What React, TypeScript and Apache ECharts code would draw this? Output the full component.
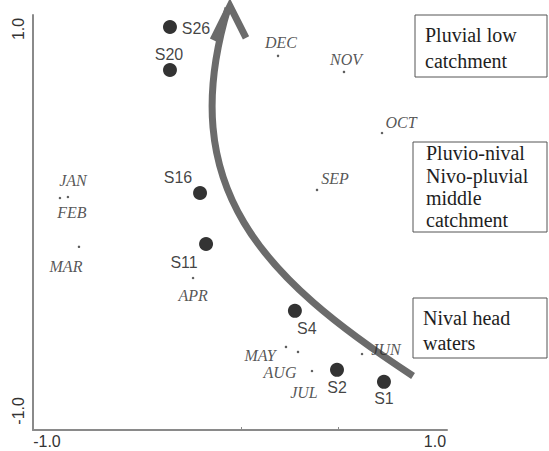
import React, { useEffect, useRef } from "react";
import * as echarts from "echarts";

// Ordination scores: sampling stations
const stationNames = ["S26", "S20", "S16", "S11", "S4", "S2", "S1"];
const stationX = [-0.366, -0.366, -0.211, -0.18, 0.278, 0.495, 0.737];
const stationY = [1.01, 0.785, 0.141, -0.126, -0.476, -0.785, -0.848];

// Ordination scores: months
const monthNames = ["JAN", "FEB", "MAR", "APR", "MAY", "JUN", "JUL", "AUG", "SEP", "OCT", "NOV", "DEC"];
const monthX = [-0.892, -0.933, -0.835, -0.247, 0.232, 0.624, 0.366, 0.294, 0.392, 0.727, 0.531, 0.191];
const monthY = [0.12, 0.115, -0.141, -0.304, -0.665, -0.702, -0.791, -0.691, 0.157, 0.455, 0.775, 0.859];

// Axis tick labels
const axisLabelValues = [-1, 1];
const xMinorTicks = [0, 0.5];

// Downstream gradient arrow: cubic Bezier (start, control 1, control 2, end) in score space
const trendX = [0.887, 0.113, -0.345, -0.067];
const trendY = [-0.817, -0.304, 0.168, 1.11];
const headX = [-0.144, -0.057, 0.026];
const headY = [0.942, 1.12, 0.953];

// Zone annotations
const zoneTexts = [
  ["Pluvial low", "catchment"],
  ["Pluvio-nival", "Nivo-pluvial", "middle", "catchment"],
  ["Nival head", "waters"],
];

// Label placement (pixel offsets from each point)
const stationLabelOffset: Record<string, number[]> = {
  S26: [26, 1], S20: [-1, -16], S16: [-22, -15], S11: [-22, 19], S4: [12, 18], S2: [0, 18], S1: [0, 17],
};
const monthLabelOffset: Record<string, number[]> = {
  JAN: [5, -17], FEB: [12, 15], MAR: [-13, 20], APR: [0, 18], MAY: [-26, 9], JUN: [24, -4],
  JUL: [-8, 22], AUG: [-18, 21], SEP: [18, -11], OCT: [19, -11], NOV: [2, -12], DEC: [3, -13],
};

const SERIF =
  "Liberation Serif, Tinos, Times New Roman, Times, Nimbus Roman, Noto Serif, FreeSerif, DejaVu Serif, serif";
const SANS = "Liberation Sans, Arial, Helvetica, sans-serif";
const ARROW = "#6b6b6b";

function zoneBox(x: number, y: number, w: number, h: number, lines: string[], tx: number, ys: number[]) {
  return {
    type: "group",
    children: [
      { type: "rect", shape: { x, y, width: w, height: h }, style: { fill: "#fff", stroke: "#555", lineWidth: 1 } },
      ...lines.map((t, i) => ({
        type: "text",
        x: tx,
        y: ys[i],
        style: {
          text: t,
          fontFamily: SERIF,
          fontSize: 20,
          fill: "#1e1e1e",
          verticalAlign: "middle",
          align: "left",
        },
      })),
    ],
  };
}

export default function App() {
  const ref = useRef<HTMLDivElement>(null);

  useEffect(() => {
    if (!ref.current) return;
    const chart = echarts.init(ref.current, null, { renderer: "svg" });

    const stationData = stationNames.map((n, i) => ({
      name: n,
      value: [stationX[i], stationY[i]],
      label: { offset: stationLabelOffset[n] },
    }));
    const monthData = monthNames.map((n, i) => ({
      name: n,
      value: [monthX[i], monthY[i]],
      label: { offset: monthLabelOffset[n] },
    }));

    chart.setOption({
      animation: false,
      backgroundColor: "#fff",
      grid: { left: 33, right: 102, top: 15, bottom: 21 },
      xAxis: {
        type: "value",
        min: -1.072,
        max: 1.062,
        splitLine: { show: false },
        axisLine: { show: true, onZero: false, lineStyle: { color: "#8a8a8a", width: 2 } },
        axisTick: { show: true, customValues: xMinorTicks, length: 3, inside: true, lineStyle: { color: "#8a8a8a" } },
        axisLabel: {
          customValues: axisLabelValues,
          formatter: (v: number) => v.toFixed(1),
          fontFamily: SANS,
          fontSize: 16,
          color: "#333",
          margin: 3,
        },
      },
      yAxis: {
        type: "value",
        min: -1.1,
        max: 1.073,
        splitLine: { show: false },
        axisLine: { show: true, onZero: false, lineStyle: { color: "#8a8a8a", width: 2 } },
        axisTick: { show: false },
        axisLabel: {
          customValues: axisLabelValues,
          formatter: (v: number) => v.toFixed(1),
          fontFamily: SANS,
          fontSize: 16,
          color: "#333",
          rotate: 90,
          margin: 7,
        },
      },
      series: [
        {
          type: "custom",
          coordinateSystem: "cartesian2d",
          silent: true,
          clip: false,
          z: 1,
          data: [[0, 0]],
          renderItem: (_params: any, api: any) => {
            const c = trendX.map((x, i) => api.coord([x, trendY[i]]));
            const head = headX.map((x, i) => api.coord([x, headY[i]]));
            return {
              type: "group",
              children: [
                {
                  type: "bezierCurve",
                  shape: {
                    x1: c[0][0], y1: c[0][1],
                    cpx1: c[1][0], cpy1: c[1][1],
                    cpx2: c[2][0], cpy2: c[2][1],
                    x2: c[3][0], y2: c[3][1],
                  },
                  style: { stroke: ARROW, lineWidth: 7, fill: null, lineCap: "butt" },
                },
                {
                  type: "polyline",
                  shape: { points: head },
                  style: { stroke: ARROW, lineWidth: 7, fill: null, lineJoin: "miter", lineCap: "butt" },
                },
              ],
            };
          },
        },
        {
          type: "scatter",
          name: "Months",
          z: 2,
          symbol: "circle",
          symbolSize: 2.5,
          itemStyle: { color: "#333" },
          data: monthData,
          label: {
            show: true,
            position: "inside",
            formatter: "{b}",
            fontFamily: SERIF,
            fontStyle: "italic",
            fontSize: 16,
            color: "#2a2a2a",
          },
        },
        {
          type: "scatter",
          name: "Stations",
          z: 3,
          symbol: "circle",
          symbolSize: 14,
          itemStyle: { color: "#000" },
          data: stationData,
          label: {
            show: true,
            position: "inside",
            formatter: "{b}",
            fontFamily: SANS,
            fontSize: 16,
            color: "#111",
          },
        },
      ],
      graphic: [
        zoneBox(415, 15, 132, 62, zoneTexts[0], 425, [35, 61]),
        zoneBox(413, 142, 134, 90, zoneTexts[1], 426, [153, 176, 198, 220]),
        zoneBox(413, 298, 134, 60, zoneTexts[2], 423, [318, 343]),
      ],
    });

    return () => chart.dispose();
  }, []);

  return (
    <div
      ref={ref}
      style={{ position: "absolute", left: 0, top: 0, width: 549, height: 451 }}
    />
  );
}
